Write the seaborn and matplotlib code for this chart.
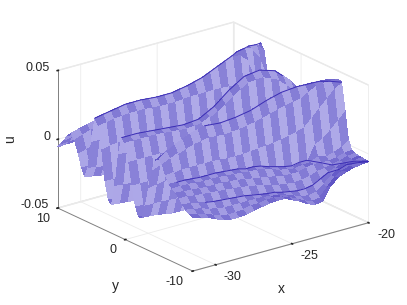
import numpy as np
import seaborn as sns
import matplotlib.pyplot as plt

x_vals = [-31.5 + 0.5 * i for i in range(24)]
y_vals = [10 - 0.5 * j for j in range(41)]

# u * 1000, one row per x station, running from y=10 to y=-10
u_rows = [
    [-5.5,-2,2,6,9,5,-3,-12,-18,-10,10,28,24,8,-14,-27,-29,-14,10,23,20,8,-8,-22,-29,-28,-18,-4,10,18,20,17,10,5,3,1,-2,-5,-8,-10,-11],
    [-5,-1.5,3,7.5,10.5,7,-1.5,-12,-19,-11,10,29,25,9,-14,-27.5,-29.5,-14.5,10,23,20,8,-8,-22.5,-29.5,-28.5,-18,-3,12,21,23.5,19.5,11,5,3,0.5,-2,-6,-9,-11.5,-12.5],
    [-5,-1,4,9,12,9,0,-12,-20,-12,10,30,26,10,-14,-28,-30,-15,10,23,20,8,-8,-23,-30,-29,-18,-2,14,24,27,22,12,5,3,0,-3,-7,-10,-13,-14],
    [-4.5,-0.5,4.5,9.5,13,10,1,-11.5,-20.5,-12.5,10.5,31,26.5,10,-14.5,-28.5,-30.5,-15.5,9.5,22.5,20,8,-8.5,-23.5,-30.5,-30,-18.5,-1.5,16,26.5,29.5,24,12,4.5,2.5,-0.5,-3.5,-8,-12,-15,-16.5],
    [-4,0,5,10,14,11,2,-11,-21,-13,11,32,27,10,-15,-29,-31,-16,9,22,20,8,-9,-24,-31,-31,-19,-1,18,29,32,26,12,4,2,-1,-4,-9,-13,-17,-19],
    [-4,0.5,5.5,10.5,14.5,11.5,2.5,-11,-22,-13,11.5,32,27,9.5,-15.5,-29.5,-31,-16,8.5,21.5,19.5,7.5,-9,-24,-31,-31,-18.5,0.5,19.5,30.5,33.5,27,12,4,2,-1,-4.5,-9.5,-14,-18,-20],
    [-4,1,6,11,15,12,3,-11,-23,-13,12,32,27,9,-16,-30,-31,-16,8,21,19,7,-9,-24,-31,-31,-18,2,21,32,35,28,12,4,2,-1,-5,-10,-14,-18,-20],
    [-3.5,1.5,6.5,11.5,15,12,3,-11.5,-23.5,-12.5,13,31.5,26.5,8.5,-16.5,-30,-31,-16.5,7,20.5,18.5,6.5,-9.5,-24.5,-31,-31,-18,2,21,31.5,34.5,27.5,11.5,3.5,1.5,-1.5,-5.5,-10.5,-14,-17.5,-19.5],
    [-3,2,7,12,15,12,3,-12,-24,-12,14,31,26,8,-17,-30,-31,-17,6,20,18,6,-10,-25,-31,-31,-18,2,21,31,34,27,11,3,1,-2,-6,-11,-14,-16,-18],
    [-3,2,7,12,15,12,2.5,-12.5,-24.5,-11.5,14.5,31,26,7.5,-17.5,-30.5,-31,-16.5,6.5,20.5,18.5,6,-10.5,-25,-31,-31,-18,2.5,21.5,31.5,34.5,27.5,11,2.5,0.5,-3,-7,-12,-14,-16,-17],
    [-3,2,7,12,15,12,2,-13,-25,-11,15,31,26,7,-18,-31,-31,-16,7,21,19,6,-11,-25,-31,-31,-18,3,22,32,35,28,11,1,0,-4,-8,-13,-14,-15,-16],
    [-2.5,2.5,7.5,12,15,11.5,1.5,-13.5,-24.5,-9.5,16.5,32,26.5,6.5,-18.5,-31,-30.5,-14.5,9.5,24,22,8,-10,-25,-31,-31,-17.5,3.5,23,33,36,29,11.5,1,-0.5,-5,-9.5,-14,-15,-15,-15.5],
    [-2,3,8,12,15,11,1,-14,-24,-8,18,33,27,6,-19,-31,-30,-13,12,27,25,10,-9,-25,-31,-31,-17,4,24,34,37,30,12,0,-1,-6,-10.5,-14.5,-15.5,-15.5,-15.5],
    [-2,3,8,12.5,15.5,10.5,0,-14.5,-22,-5,21,34.5,27,5,-20,-31,-29.5,-10.5,16,31.5,29,12,-8.5,-25,-31,-30.5,-16.5,5,25.5,36,39,31.5,12.5,-2,-3,-7,-12,-16,-17,-17.5,-18],
    [-2,3,8,13,16,10,-1,-15,-20,-2,24,36,27,4,-21,-31,-29,-8,20,36,33,14,-8,-25,-31,-30,-16,6,27,38,41,33,13,-3.5,-5,-8,-13,-17,-19,-20,-20.5],
    [-2,3,8.5,13.5,16,9.5,-2,-15,-17,2,27.5,38.5,27,2.5,-22,-31,-28,-6,23.5,39.5,36.5,15.5,-7.5,-25,-31,-30,-15.5,7,28.5,39.5,42.5,34.5,14,-5,-6,-8.5,-13.5,-18,-21,-23,-24],
    [-2,3,9,14,16,9,-3,-15,-14,6,31,41,27,1,-23,-31,-27,-4,27,43,40,17,-7,-25,-31,-30,-15,8,30,41,44,36,15,-6,-7,-8.5,-13,-18,-22,-25,-26],
    [-2,3,9,14.5,17.5,12.5,0.5,-12,-9.5,11.5,35.5,43.5,26.5,-0.5,-24,-31,-26,-2,28.5,43.8,40.5,18,-6,-24.5,-31,-29.5,-14.5,9,31,42,44.5,37,16.5,-5,-6,-7,-12,-17,-21,-24,-25],
    [-2,3,9,15,19,16,4,-9,-5,17,40,46,26,-2,-25,-31,-25,0,30,44.5,41,19,-5,-24,-31,-29,-14,10,32,43,45,38,18,-5,-5.5,-6,-10,-14,-17,-18,-16],
    [-1.5,3,9,15.5,20,15,3,-7.5,3.5,28,46,45,22,-7,-26.5,-30.5,-22.5,1,28.5,42.8,38.5,17.5,-6,-24,-30.5,-28.5,-13,11,33,43,44.8,41,23.5,5.5,-3,-6,-9,-11,-12,-12,-11],
    [-1,3,9,16,21,14,2,-6,12,36,47,40,16,-12,-28,-30,-20,2,27,41,36,16,-7,-24,-30,-28,-12,12,34,43,44.7,44,29,8,-4,-6.5,-8,-9,-9,-9,-8.5],
    [-1,3,9,15.5,20,12,0,3,28,46,45,26,4,-18.5,-29,-28,-16,5,24.5,36,31,13,-8.5,-24.5,-30,-27.5,-11.5,12,33.5,42.5,44.4,44,34.5,13,-2,-5.5,-6.5,-7,-7,-7,-7],
    [-1,3,9,15,19,10,-2,12,37,45.5,38,16,-8,-25,-30,-26,-12,8,22,31,26,10,-10,-25,-30,-27,-11,12,33,42,44,44,40,18,0,-4,-5,-6,-6,-6,-6],
    [-1,2,7,12,13,2,10,30,44,40,24,2,-16,-27,-29,-22,-6,10,20,24,20,6,-12,-25,-30,-27,-10,12,32,41,43,44,43,24,4,-3,-4,-5,-5,-5.5,-5.5],
]

# y index of each crest or fold per x station, (first x station, list of indices)
ridge_1 = (0, [11] * 19 + [10, 10, 9, 9, 8])
ridge_2 = (0, [19] * 22)
ridge_3 = (6, [30] * 16 + [31, 32])
fold_1 = (1, [33] * 18 + [35, 36, 37, 38, 40])
fold_2 = (3, [37] * 17 + [38, 38, 39, 40])

x_ticks = [-30, -25, -20]
y_ticks = [-10, 0, 10]
u_ticks = [-0.05, 0, 0.05]

# tick and axis labels: text, pixel position in the 407x305 frame
z_text = [("0.05", 38, 68), ("0", 47, 137), ("-0.05", 35, 205)]
y_text = [("10", 43, 219), ("0", 113, 250), ("-10", 175, 282)]
x_text = [("-30", 232, 277), ("-25", 309, 256), ("-20", 386, 235)]
axis_text = [("x", 281, 289), ("y", 115, 286)]

sns.set_theme(style="white")
plt.rcParams["font.family"] = ["Liberation Sans", "DejaVu Sans"]
plt.rcParams["axes.unicode_minus"] = False

X, Y = np.meshgrid(x_vals, y_vals, indexing="ij")
U = np.array(u_rows) / 1000.0

# checker for the mesh moire, then darken cells that project thin on screen
pale, strong, dark = sns.color_palette(["#b3aeea", "#8c85d9", "#3b2db5"])
cells = np.empty((U.shape[0] - 1, U.shape[1] - 1, 3))
ii, jj = np.indices(cells.shape[:2])
cells[(ii + jj) % 2 == 0] = pale
cells[(ii + jj) % 2 == 1] = strong
du = 0.5 * (np.diff(U, axis=1)[:-1, :] + np.diff(U, axis=1)[1:, :])
height = np.abs(1.6 - 1370 * du)
weight = np.clip(1.0 / (height + 0.5), 0, 0.55)[..., None]
cells = cells * (1 - weight) + np.array(dark) * weight

fig = plt.figure(figsize=(4.07, 3.05), dpi=100)
ax = fig.add_axes([0.013, -0.025, 1.0, 1.06], projection="3d")
ax.computed_zorder = False
ax.set_proj_type("ortho")
ax.view_init(elev=21, azim=-127.5)
ax.set_box_aspect((1, 1, 0.665), zoom=1.04)

ax.plot_surface(X, Y, U, facecolors=cells, edgecolor="none", linewidth=0, shade=False, rstride=1, cstride=1, antialiased=False, zorder=1)

for start, idx in (ridge_1, ridge_2, ridge_3, fold_1, fold_2):
    rows = np.arange(start, start + len(idx))
    ax.plot(X[rows, idx], Y[rows, idx], U[rows, idx], color=dark, linewidth=0.7, zorder=2)

ax.set_xlim(-31.5, -20)
ax.set_ylim(-10, 10)
ax.set_zlim(-0.05, 0.05)
ax.set_xticks(x_ticks)
ax.set_yticks(y_ticks)
ax.set_zticks(u_ticks)
ax.set_xticklabels([])
ax.set_yticklabels([])
ax.set_zticklabels([])

for axis in (ax.xaxis, ax.yaxis, ax.zaxis):
    axis.set_pane_color((1, 1, 1, 1))
    axis.pane.set_edgecolor("#e6e6e6")
    axis.line.set_color("#808080")
    axis.line.set_linewidth(0.7)
    axis._axinfo["grid"].update(color="#ebebeb", linewidth=0.6)
    axis._axinfo["tick"].update(color="#808080", inward_factor=0.05, outward_factor=0.05)


def put(label, px, py, **kw):
    fig.text(px / 407, 1 - py / 305, label, ha="center", va="center", color="#262626", **kw)


for label, px, py in z_text + y_text + x_text:
    put(label, px, py, fontsize=9)
for label, px, py in axis_text:
    put(label, px, py, fontsize=10)
put("u", 10, 139, fontsize=10, rotation=90)

plt.savefig("out.png", dpi=100)
